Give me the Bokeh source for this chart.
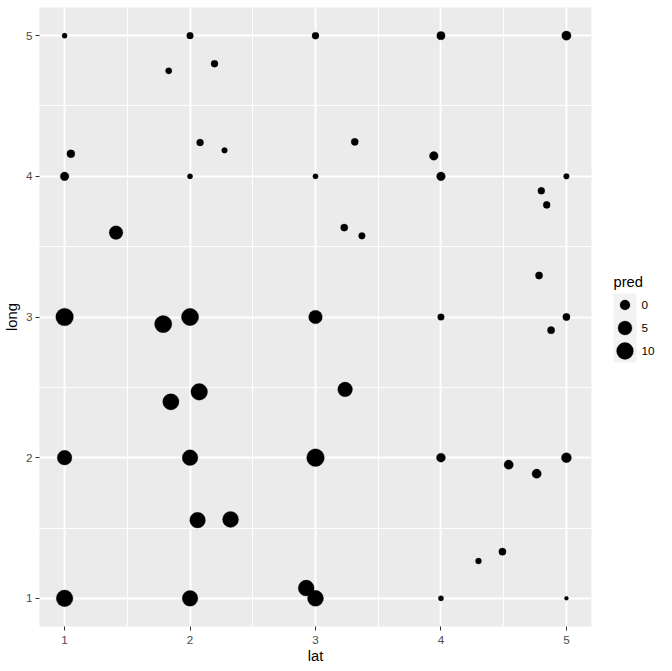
import numpy as np
from bokeh.plotting import figure
from bokeh.models import Range1d, FixedTicker, ColumnDataSource
from bokeh.layouts import row
from bokeh.core.properties import value
from bokeh.embed import file_html
from bokeh.resources import INLINE

# ---- data ----
lat = [1, 2, 3, 4, 5,
       1.83, 2.195, 1.05, 1, 2.08, 2.275, 2, 3,
       1.41, 1, 1.786, 2, 3,
       3.313, 3.943, 4, 5, 4.80, 4.843, 3.229, 3.37, 4.782, 4, 5, 4.878,
       2.073, 1.847, 3.236, 1, 2, 3, 2.06, 2.323, 1, 2, 2.926, 3,
       4, 5, 4.54, 4.763, 4.49, 4.299, 4, 5]
long_ = [5, 5, 5, 5, 5,
         4.75, 4.80, 4.16, 4, 4.24, 4.185, 4, 4,
         3.60, 3, 2.95, 3, 3,
         4.245, 4.145, 4, 4, 3.897, 3.797, 3.636, 3.577, 3.295, 3, 3, 2.906,
         2.468, 2.397, 2.485, 2, 2, 2, 1.556, 1.561, 1, 1, 1.073, 1,
         2, 2, 1.95, 1.886, 1.332, 1.265, 1, 1]
pred = [-2.66, -2.19, -2.05, -1.32, -0.57,
        -2.33, -2.05, -1.51, -1.04, -2.05, -2.53, -2.62, -2.62,
        4.54, 11.8, 10.96, 10.96, 4.54,
        -1.91, -1.04, -1.04, -2.53, -2.05, -2.05, -1.91, -2.19, -1.91, -2.19, -1.91, -1.91,
        9.75, 8.98, 6.12, 6.12, 7.86, 11.8, 7.86, 8.41, 9.75, 7.86, 8.41, 8.41,
        -0.81, 0.04, -0.57, -0.57, -1.91, -2.44, -2.62, -2.75]
x_ticks = [1, 2, 3, 4, 5]
y_ticks = [1, 2, 3, 4, 5]
legend_values = [0, 5, 10]
legend_labels = ["0", "5", "10"]

FONT = "Liberation Sans"
PRED_MIN, PRED_MAX = min(pred), max(pred)
D_MIN, D_MAX = 4.0, 17.7


def size_for(v):
    v = np.asarray(v, dtype=float)
    return D_MIN + (D_MAX - D_MIN) * np.sqrt((v - PRED_MIN) / (PRED_MAX - PRED_MIN))


def minor_of(t):
    return [(a + b) / 2 for a, b in zip(t, t[1:])]


H = 668
W_MAIN = 598
B_TOP, B_BOTTOM = 7, 42
p = figure(width=W_MAIN, height=H, x_range=Range1d(0.8, 5.2), y_range=Range1d(0.8, 5.2),
           output_backend="svg", toolbar_location=None,
           min_border_left=38, min_border_right=7, min_border_top=B_TOP,
           min_border_bottom=B_BOTTOM,
           background_fill_color="#EBEBEB", border_fill_color="white",
           outline_line_color=None, x_axis_label="lat", y_axis_label="long")

p.xaxis.ticker = FixedTicker(ticks=x_ticks, minor_ticks=minor_of(x_ticks))
p.yaxis.ticker = FixedTicker(ticks=y_ticks, minor_ticks=minor_of(y_ticks))
for ax in (p.xaxis[0], p.yaxis[0]):
    ax.axis_line_color = None
    ax.minor_tick_line_color = None
    ax.major_tick_line_color = "#333333"
    ax.major_tick_line_width = 1
    ax.major_tick_in = 0
    ax.major_tick_out = 4
    ax.major_label_text_font = FONT
    ax.major_label_text_font_size = "11.7px"
    ax.major_label_text_color = "#4D4D4D"
    ax.axis_label_text_font = FONT
    ax.axis_label_text_font_size = "14.7px"
    ax.axis_label_text_font_style = "normal"
    ax.axis_label_text_color = "black"
p.xaxis[0].major_label_standoff = 5
p.xaxis[0].axis_label_standoff = 1
p.yaxis[0].major_label_standoff = 3
p.yaxis[0].axis_label_standoff = 3

for g in (p.xgrid[0], p.ygrid[0]):
    g.grid_line_color = "white"
    g.grid_line_width = 1.9
    g.minor_grid_line_color = "white"
    g.minor_grid_line_width = 0.95

src = ColumnDataSource(dict(lat=lat, long=long_, pred=pred, size=size_for(pred)))
p.scatter(x="lat", y="long", size="size", source=src, marker="circle",
          fill_color="black", line_color="black", line_width=0.3)

# ---- legend as a separate small figure (no axes); its frame is aligned with
# the main panel, so its y range is given in page pixels of that span ----
LW = 672 - W_MAIN
leg = figure(width=LW, height=H, x_range=Range1d(0, LW),
             y_range=Range1d(H - B_BOTTOM, B_TOP),
             x_axis_type=None, y_axis_type=None,
             output_backend="svg", toolbar_location=None,
             min_border=0, min_border_left=0, min_border_right=0,
             min_border_top=B_TOP, min_border_bottom=B_BOTTOM,
             background_fill_color="white", border_fill_color="white",
             outline_line_color=None)
leg.grid.visible = False

KEY = 23
KEY_X = 26.5
KEY_Y0 = 304.5
key_y = [KEY_Y0 + i * KEY for i in range(len(legend_values))]
leg.rect(x=[KEY_X] * len(key_y), y=key_y, width=KEY, height=KEY,
         fill_color="#F2F2F2", line_color=None)
leg.scatter(x=[KEY_X] * len(key_y), y=key_y, size=size_for(legend_values),
            marker="circle", fill_color="black", line_color="black", line_width=0.3)
leg.text(x=[KEY_X + 16.5] * len(key_y), y=key_y, text=legend_labels,
         text_font=value(FONT), text_font_size="11.7px", text_color="black",
         text_baseline="middle", text_align="left")
leg.text(x=[KEY_X - KEY / 2], y=[KEY_Y0 - KEY / 2 - 12], text=["pred"],
         text_font=value(FONT), text_font_size="14.7px", text_color="black",
         text_baseline="alphabetic", text_align="left")

layout = row(p, leg)
open("out.html", "w").write(file_html(layout, INLINE))
